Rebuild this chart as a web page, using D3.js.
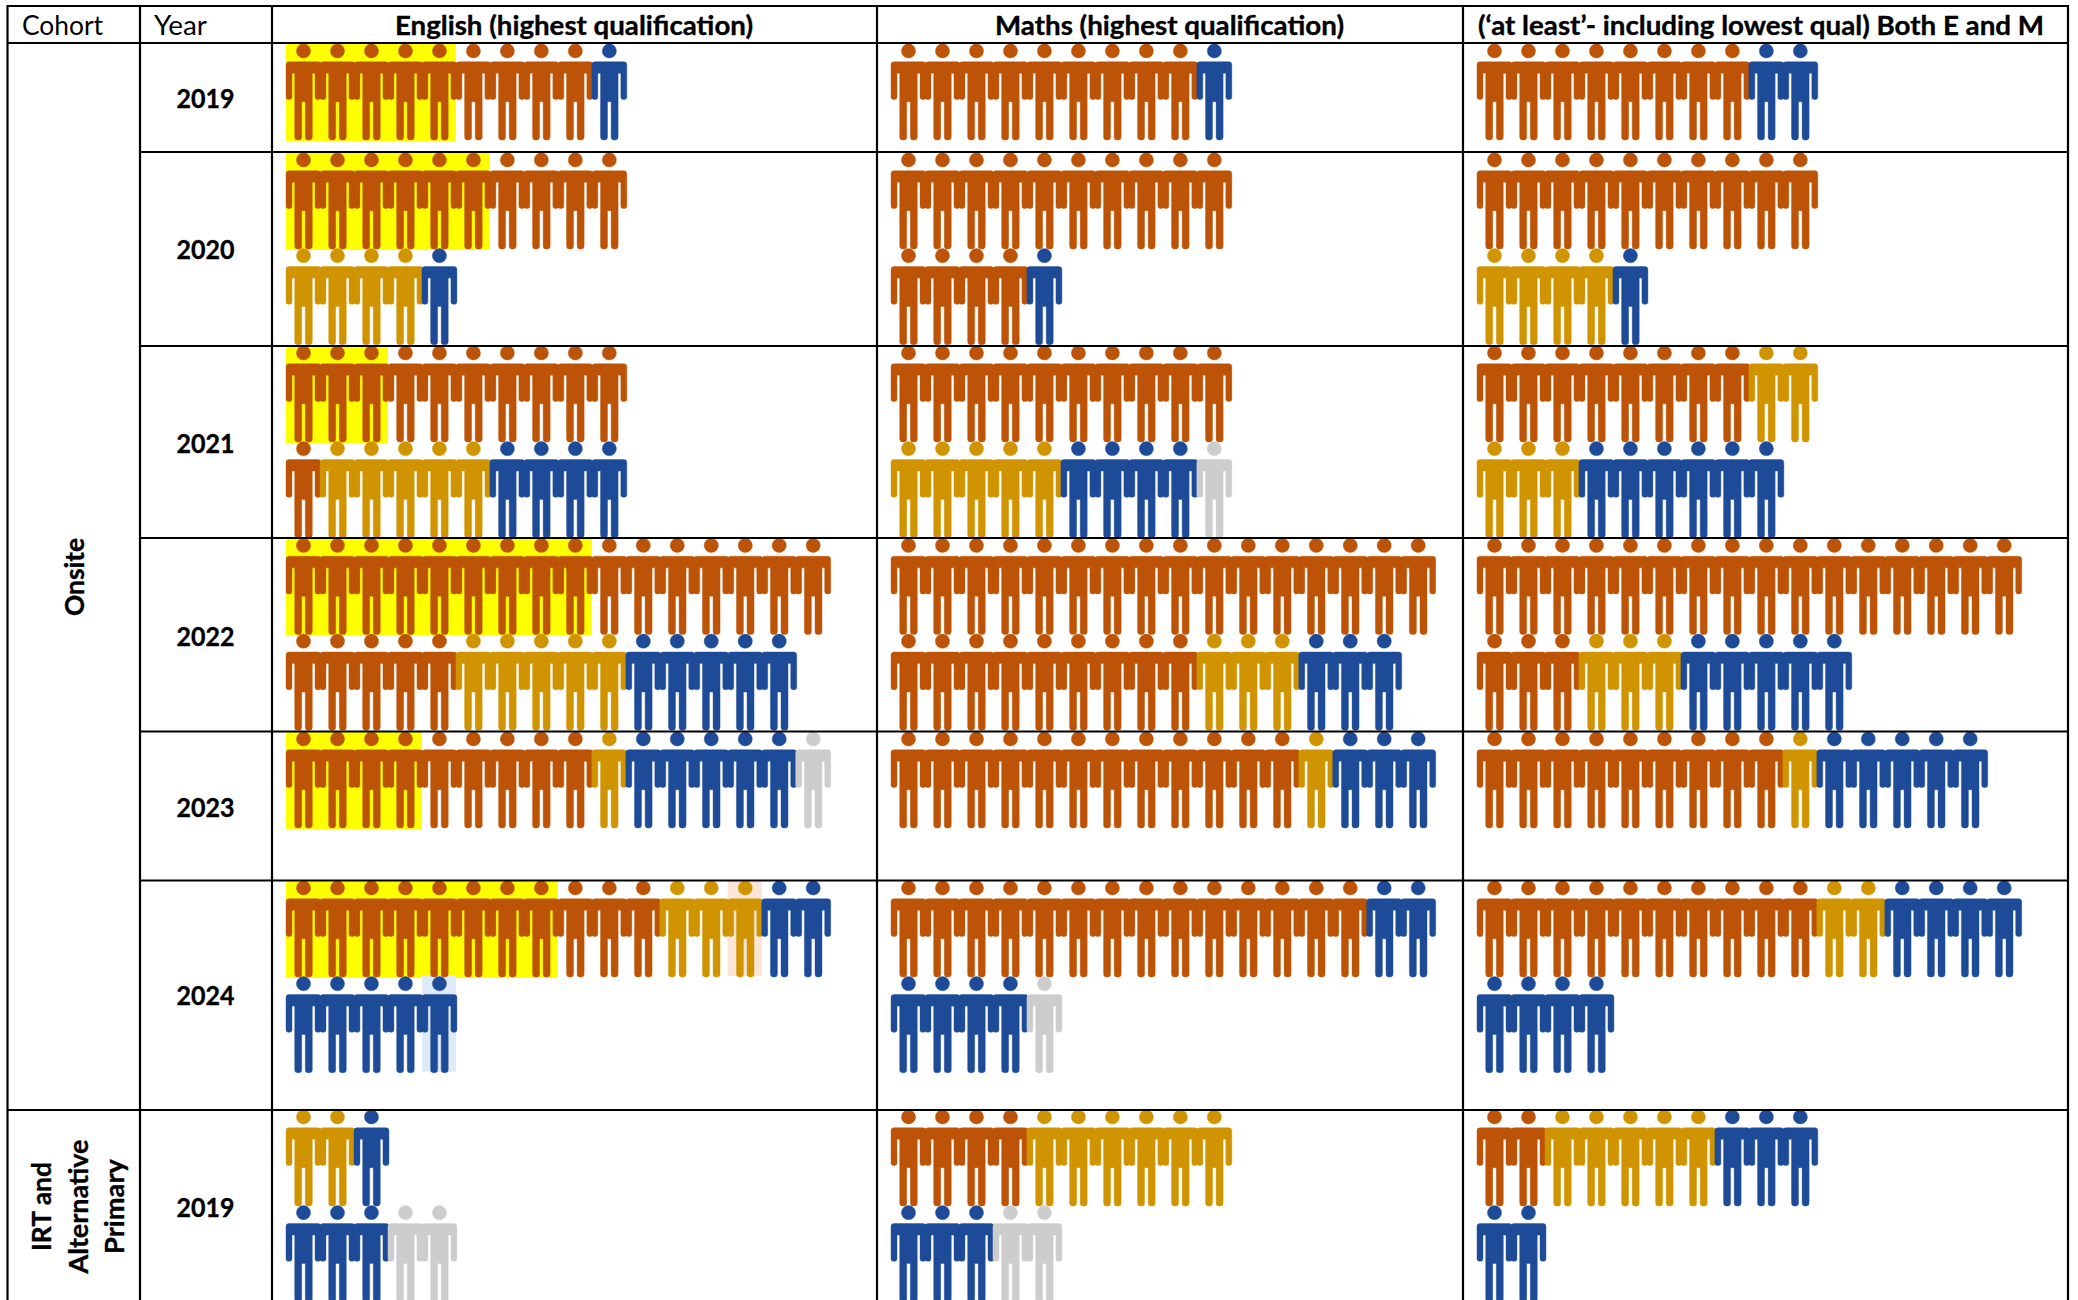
<!DOCTYPE html>
<html>
<head>
<meta charset="utf-8">
<script src="https://cdn.jsdelivr.net/npm/d3@7/dist/d3.min.js"></script>
<style>
html,body{margin:0;padding:0;background:#fff;overflow:hidden}
text{font-family:Lato,"Open Sans",sans-serif;fill:#000}
text.bold{font-weight:700;stroke:#000;stroke-width:0.35}
</style>
</head>
<body>
<svg id="chart" width="2078" height="1300"></svg>
<script>
// ---------- data ----------
const headers = ["Cohort", "Year"];
const subjects = ["English (highest qualification)", "Maths (highest qualification)", "(\u2018at least\u2019- including lowest qual) Both E and M"];
const years = ["2019", "2020", "2021", "2022", "2023", "2024", "2019 "];
const grades = ["high", "mid", "low", "none"];

// Each row of icons: number of figures per grade [high, mid, low, none]
const englishRows = [
  [[9,0,1,0]],
  [[10,0,0,0],[0,4,1,0]],
  [[10,0,0,0],[1,5,4,0]],
  [[16,0,0,0],[5,5,5,0]],
  [[9,1,5,1]],
  [[11,3,2,0],[0,0,5,0]],
  [[0,2,1,0],[0,0,3,2]]
];
const mathsRows = [
  [[9,0,1,0]],
  [[10,0,0,0],[4,0,1,0]],
  [[10,0,0,0],[0,5,4,1]],
  [[16,0,0,0],[9,3,3,0]],
  [[12,1,3,0]],
  [[14,0,2,0],[0,0,4,1]],
  [[4,6,0,0],[0,0,3,2]]
];
const bothRows = [
  [[8,0,2,0]],
  [[10,0,0,0],[0,4,1,0]],
  [[8,2,0,0],[0,3,6,0]],
  [[16,0,0,0],[3,3,5,0]],
  [[9,1,5,0]],
  [[10,2,4,0],[0,0,4,0]],
  [[2,5,3,0],[0,0,2,0]]
];
// Number of yellow-highlighted figures in the English column, per year
const englishHighlights = [5, 6, 3, 9, 4, 8, 0];
// Individually tinted figures in English 2024: [row, index, tint]
const tintedFigures = [[0, 13, "peach"], [1, 4, "pale"]];

// ---------- layout ----------
const subjectRows = [englishRows, mathsRows, bothRows];
const colour = d3.scaleOrdinal(grades, ["#BC5306", "#D09400", "#1E4B98", "#CDCDCD"]);
const tint = d3.scaleOrdinal(["peach", "pale"], ["#FBE5D6", "#DEEAF6"]);
const colLines = [7.5, 140, 272, 877, 1463, 2068];
const rowLines = [6, 43, 152, 346, 538, 731.5, 880.5, 1110];
const figureTops = [43, 152, 345, 537.5, 731, 880, 1109];
const subjectX = d3.scaleOrdinal(subjects, [286, 891, 1477]);
const figureTop = d3.scaleOrdinal(years, figureTops);
const xStep = d3.scaleLinear().domain([0, 1]).range([0, 33.98]);
const yStep = d3.scaleLinear().domain([0, 1]).range([0, 95.8]);

function bodyPath() {
  const p = d3.path();
  p.moveTo(3, 18.7);
  p.lineTo(32, 18.7);
  p.quadraticCurveTo(35, 18.7, 35, 21.7);
  p.lineTo(35, 54.3);
  p.quadraticCurveTo(35, 56.4, 33, 56.4);
  p.lineTo(31, 56.4);
  p.quadraticCurveTo(29, 56.4, 29, 54.3);
  p.lineTo(29, 30.3);
  p.lineTo(26.3, 30.3);
  p.lineTo(26.3, 94);
  p.quadraticCurveTo(26.3, 97, 23.4, 97);
  p.lineTo(22, 97);
  p.quadraticCurveTo(19.3, 97, 19.3, 94);
  p.lineTo(19.3, 58.7);
  p.lineTo(15.7, 58.7);
  p.lineTo(15.7, 94);
  p.quadraticCurveTo(15.7, 97, 13, 97);
  p.lineTo(11.6, 97);
  p.quadraticCurveTo(8.7, 97, 8.7, 94);
  p.lineTo(8.7, 30.3);
  p.lineTo(6, 30.3);
  p.lineTo(6, 54.3);
  p.quadraticCurveTo(6, 56.4, 4, 56.4);
  p.lineTo(2, 56.4);
  p.quadraticCurveTo(0, 56.4, 0, 54.3);
  p.lineTo(0, 21.7);
  p.quadraticCurveTo(0, 18.7, 3, 18.7);
  p.closePath();
  return p.toString();
}

// Flatten rows into one figure per mark
const figures = [];
subjects.forEach((subject, s) => {
  years.forEach((year, y) => {
    subjectRows[s][y].forEach((counts, row) => {
      let index = 0;
      counts.forEach((n, g) => {
        d3.range(n).forEach(() => {
          figures.push({subject, year, row, index, grade: grades[g]});
          index += 1;
        });
      });
    });
  });
});

const svg = d3.select("#chart");

// ---------- highlights ----------
svg.append("g").selectAll("rect")
  .data(years.map((year, i) => ({year, n: englishHighlights[i], i})).filter(d => d.n > 0))
  .join("rect")
  .attr("x", subjectX(subjects[0]))
  .attr("y", d => figureTop(d.year) + (d.i === 2 ? 1 : 0))
  .attr("width", d => xStep(d.n))
  .attr("height", d => 98 - (d.i === 2 ? 1 : 0))
  .attr("fill", "#FFFF00");

svg.append("g").selectAll("rect")
  .data(tintedFigures)
  .join("rect")
  .attr("x", d => subjectX(subjects[0]) + xStep(d[1]))
  .attr("y", d => figureTop("2024") + yStep(d[0]))
  .attr("width", xStep(1))
  .attr("height", 96)
  .attr("fill", d => tint(d[2]));

// ---------- figures ----------
const body = bodyPath();
const fig = svg.append("g").selectAll("g")
  .data(figures)
  .join("g")
  .attr("transform", d => `translate(${subjectX(d.subject) + xStep(d.index)},${figureTop(d.year) + yStep(d.row)})`)
  .attr("fill", d => colour(d.grade))
  .attr("stroke", d => colour(d.grade))
  .attr("stroke-width", 0.4);
fig.append("circle").attr("cx", 17.5).attr("cy", 7.9).attr("r", 7.1);
fig.append("path").attr("d", body);

// ---------- table grid ----------
const grid = svg.append("g").attr("stroke", "#000").attr("stroke-width", 2.2);
grid.selectAll("line.v")
  .data(colLines)
  .join("line")
  .attr("class", "v")
  .attr("x1", d => d).attr("x2", d => d)
  .attr("y1", 5)
  .attr("y2", 1300);
grid.selectAll("line.top")
  .data([rowLines[0], rowLines[1]])
  .join("line")
  .attr("class", "top")
  .attr("x1", colLines[0]).attr("x2", colLines[5])
  .attr("y1", d => d).attr("y2", d => d);
grid.selectAll("line.h")
  .data(rowLines.slice(2))
  .join("line")
  .attr("class", "h")
  .attr("x1", (d, i, a) => (i === a.length - 1 ? colLines[0] : colLines[1]))
  .attr("x2", colLines[5])
  .attr("y1", d => d).attr("y2", d => d);

// ---------- text ----------
const labels = svg.append("g");
labels.selectAll("text.head")
  .data(headers)
  .join("text")
  .attr("class", "head")
  .attr("x", (d, i) => [22, 154][i])
  .attr("y", 35)
  .attr("font-size", 26)
  .attr("textLength", (d, i) => [81, 53][i])
  .attr("lengthAdjust", "spacingAndGlyphs")
  .text(d => d);

labels.selectAll("text.subject")
  .data(subjects)
  .join("text")
  .attr("class", "subject bold")
  .attr("x", (d, i) => [395, 995, 1478][i])
  .attr("y", 35)
  .attr("font-size", 26)
  .attr("textLength", (d, i) => [358, 349, 566][i])
  .attr("lengthAdjust", "spacingAndGlyphs")
  .text(d => d);

labels.selectAll("text.year")
  .data(years)
  .join("text")
  .attr("class", "year bold")
  .attr("x", 205.5)
  .attr("y", (d, i) => [108, 259, 453, 646, 817, 1005, 1217][i])
  .attr("text-anchor", "middle")
  .attr("font-size", 26)
  .attr("textLength", 58)
  .attr("lengthAdjust", "spacingAndGlyphs")
  .text(d => d.trim());

const cohorts = [
  {lines: ["Onsite"], x: [84], y: 577, len: [78]},
  {lines: ["IRT and", "Alternative", "Primary"], x: [50.5, 88, 123.5], y: 1206.5, len: [89, 134, 95]}
];
cohorts.forEach(c => {
  c.lines.forEach((line, i) => {
    labels.append("text")
      .attr("class", "bold")
      .attr("transform", `translate(${c.x[i]},${c.y}) rotate(-90)`)
      .attr("text-anchor", "middle")
      .attr("font-size", 26)
      .attr("textLength", c.len[i])
      .attr("lengthAdjust", "spacingAndGlyphs")
      .text(line);
  });
});
</script>
</body>
</html>
